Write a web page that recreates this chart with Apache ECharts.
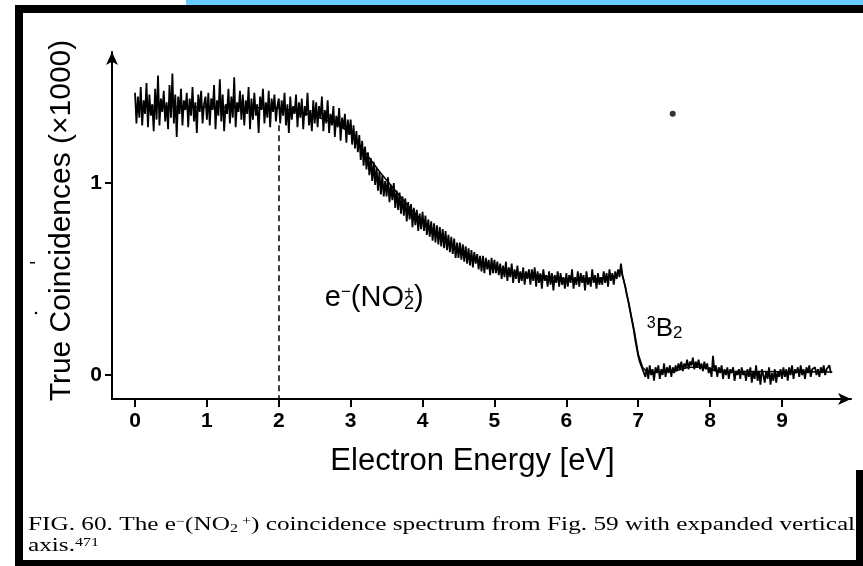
<!DOCTYPE html>
<html>
<head>
<meta charset="utf-8">
<script src="https://cdn.jsdelivr.net/npm/echarts@6/dist/echarts.min.js"></script>
<style>
html,body{margin:0;padding:0;background:#fff;}
#c{width:863px;height:566px;}
</style>
</head>
<body>
<div id="c"></div>
<script>
// ---- data ----
const energyStart = 0;      // eV, first channel
const energyStep = 0.02;    // eV per channel
const counts = [
  1.47,1.31,1.45,1.34,1.50,1.30,1.43,1.36,1.52,1.29,1.46,1.35,1.41,1.27,1.49,1.33,1.56,1.30,1.44,1.37,1.48,1.32,1.42,1.28,1.51,
  1.34,1.57,1.31,1.46,1.24,1.45,1.36,1.49,1.30,1.43,1.38,1.47,1.29,1.44,1.35,1.50,1.32,1.42,1.26,1.46,1.37,1.48,1.31,1.41,1.45,
  1.33,1.47,1.30,1.44,1.38,1.51,1.28,1.43,1.35,1.54,1.32,1.46,1.27,1.41,1.36,1.49,1.31,1.45,1.34,1.55,1.29,1.42,1.37,1.48,1.33,
  1.46,1.30,1.43,1.36,1.50,1.28,1.44,1.33,1.47,1.35,1.41,1.26,1.45,1.38,1.49,1.31,1.42,1.34,1.48,1.29,1.44,1.37,1.46,1.32,1.40,
  1.44,1.31,1.43,1.35,1.47,1.30,1.41,1.26,1.45,1.33,1.40,1.36,1.46,1.29,1.42,1.34,1.44,1.28,1.40,1.35,1.47,1.30,1.38,1.27,1.43,
  1.31,1.42,1.29,1.40,1.34,1.45,1.27,1.38,1.31,1.43,1.26,1.36,1.30,1.40,1.24,1.35,1.29,1.39,1.22,1.34,1.28,1.36,1.21,1.33,1.25,
  1.33,1.20,1.30,1.18,1.27,1.16,1.25,1.12,1.22,1.09,1.19,1.07,1.16,1.04,1.13,1.01,1.11,0.99,1.08,0.96,1.06,0.94,1.04,0.93,1.01,
  0.93,1.03,0.90,0.99,0.91,1.00,0.87,0.96,0.86,0.95,0.84,0.93,0.83,0.92,0.80,0.90,0.81,0.89,0.77,0.87,0.78,0.86,0.75,0.84,0.76,
  0.85,0.75,0.83,0.73,0.81,0.72,0.80,0.70,0.79,0.69,0.78,0.68,0.77,0.67,0.76,0.66,0.75,0.65,0.73,0.64,0.72,0.63,0.71,0.61,0.69,
  0.61,0.69,0.60,0.68,0.59,0.67,0.58,0.66,0.57,0.65,0.56,0.64,0.58,0.63,0.55,0.62,0.54,0.62,0.53,0.61,0.55,0.60,0.52,0.61,0.53,
  0.60,0.53,0.59,0.52,0.58,0.50,0.57,0.51,0.59,0.49,0.56,0.51,0.58,0.48,0.55,0.50,0.57,0.48,0.54,0.49,0.56,0.47,0.54,0.50,0.55,
  0.47,0.55,0.49,0.56,0.46,0.54,0.48,0.53,0.45,0.55,0.49,0.52,0.46,0.54,0.47,0.53,0.44,0.52,0.48,0.54,0.46,0.53,0.47,0.51,0.45,
  0.53,0.46,0.52,0.48,0.55,0.45,0.51,0.47,0.54,0.46,0.53,0.48,0.52,0.44,0.54,0.47,0.51,0.46,0.55,0.48,0.52,0.45,0.53,0.47,0.51,
  0.47,0.54,0.48,0.53,0.46,0.55,0.49,0.53,0.47,0.54,0.50,0.55,0.51,0.58,0.52,0.49,0.46,0.42,0.39,0.35,0.31,0.27,0.23,0.18,0.14,
  0.10,0.07,0.05,0.03,0.04,-0.01,0.04,-0.02,0.05,0.00,0.03,-0.03,0.04,0.01,0.05,-0.02,0.03,0.00,0.06,-0.01,0.04,0.01,0.05,-0.01,0.04,
  0.01,0.05,0.02,0.06,0.03,0.07,0.02,0.06,0.04,0.08,0.03,0.07,0.05,0.09,0.03,0.07,0.04,0.08,0.03,0.06,0.02,0.07,0.03,0.06,0.01,
  0.04,-0.01,0.10,0.02,0.05,-0.01,0.04,0.01,0.05,-0.02,0.03,0.00,0.04,-0.02,0.03,0.01,0.04,-0.03,0.02,0.00,0.03,-0.02,0.04,0.00,0.02,
  -0.03,0.03,-0.01,0.04,-0.04,0.02,-0.02,0.05,-0.03,0.02,-0.05,0.03,0.00,-0.04,0.02,-0.02,0.04,-0.05,0.01,-0.03,0.03,-0.04,0.02,-0.01,0.03,
  -0.02,0.04,-0.01,0.03,-0.03,0.04,0.00,0.05,-0.02,0.03,0.01,0.04,-0.01,0.05,0.00,0.03,-0.02,0.04,0.01,0.05,-0.01,0.03,0.02,0.04,0.00,
  0.03,-0.01,0.04,0.01,0.05,0.00,0.03,0.02,0.05,0.01
];
const fitEnergy = [0, 2.0, 2.4, 2.8, 3.0, 3.2, 3.4, 3.6, 3.8, 4.0, 4.2, 4.4, 4.6, 4.8, 5.0, 5.3, 5.6, 6.0, 6.4, 6.7, 6.76, 6.82, 6.88, 6.95, 7.0, 7.06, 7.12, 7.5, 7.7, 7.9, 8.1, 9.7];
const fitCounts = [1.40, 1.39, 1.36, 1.31, 1.26, 1.16, 1.06, 0.97, 0.88, 0.80, 0.74, 0.68, 0.63, 0.59, 0.56, 0.53, 0.52, 0.50, 0.50, 0.52, 0.55, 0.46, 0.35, 0.22, 0.11, 0.04, 0.015, 0.02, 0.04, 0.04, 0.02, 0.015];
const xTicks = [0, 1, 2, 3, 4, 5, 6, 7, 8, 9];
const yTicks = [0, 1];
const dashEnergy = 2;
const dashTop = 1.30;
const xTitle = 'Electron Energy [eV]';
const yTitle = 'True Coincidences (×1000)';
const captionLine1 = 'FIG. 60. The e{sup|−}(NO{sub|2}{sup| +}) coincidence spectrum from Fig. 59 with expanded vertical';
const captionLine2 = 'axis.{sup|471}';
const specks = [[7.48, 1.36]]; // isolated dot in the plot

// ---- chart ----
const xMin = -0.32, xMax = 9.96, yMin = -0.125, yMax = 1.682;
const sans = "'Liberation Sans', Arial, sans-serif";
const serif = "'Liberation Serif', 'Times New Roman', serif";

const trace = counts.map((v, i) => [+(energyStart + i * energyStep).toFixed(2), v]);
const fit = fitEnergy.map((e, i) => [e, fitCounts[i]]);

const chart = echarts.init(document.getElementById('c'), null, {renderer: 'canvas'});
const axisCommon = {
  type: 'value',
  splitLine: {show: false},
  axisLine: {show: true, onZero: false, symbol: ['none', 'arrow'], symbolSize: [9, 13], lineStyle: {color: '#000', width: 2}},
};
chart.setOption({
  animation: false,
  backgroundColor: '#fff',
  grid: {left: 112, top: 52, width: 739, height: 347},
  xAxis: Object.assign({}, axisCommon, {
    min: xMin, max: xMax,
    axisTick: {show: true, customValues: xTicks, length: 8, lineStyle: {color: '#000', width: 2}},
    axisLabel: {customValues: xTicks, margin: 12, color: '#000', fontFamily: sans, fontSize: 21, fontWeight: 'bold'},
    name: xTitle, nameLocation: 'middle', nameGap: 47,
    nameTextStyle: {color: '#000', fontFamily: sans, fontSize: 31, padding: [0, 18, 0, 0]}
  }),
  yAxis: Object.assign({}, axisCommon, {
    min: yMin, max: yMax,
    axisTick: {show: true, customValues: yTicks, length: 7, lineStyle: {color: '#000', width: 2}},
    axisLabel: {customValues: yTicks, margin: 10, color: '#000', fontFamily: sans, fontSize: 21, fontWeight: 'bold'},
    name: yTitle, nameLocation: 'middle', nameGap: 35, nameRotate: 90,
    nameTextStyle: {color: '#000', fontFamily: sans, fontSize: 30, padding: [0, 0, 0, 10]}
  }),
  series: [
    {
      type: 'line', data: trace, showSymbol: false, z: 3,
      lineStyle: {color: '#000', width: 1.8}
    },
    {
      type: 'line', data: fit, showSymbol: false, z: 2,
      lineStyle: {color: '#000', width: 1.5},
      markLine: {
        silent: true, symbol: ['none', 'none'], label: {show: false},
        lineStyle: {color: '#000', width: 1.5, type: [6, 4]},
        data: [[{coord: [dashEnergy, dashTop]}, {coord: [dashEnergy, yMin]}]]
      }
    },
    {
      type: 'scatter', data: specks, symbol: 'circle', symbolSize: 6,
      itemStyle: {color: '#000'}, z: 4
    }
  ]
});

const p = (e, v) => chart.convertToPixel({gridIndex: 0}, [e, v]);
const lbl1 = p(2.64, 0.40);
const lbl2 = p(7.12, 0.24);

chart.setOption({
  graphic: [
    {type: 'rect', shape: {x: 186, y: 0, width: 677, height: 5}, style: {fill: '#66CCFF'}, silent: true},
    {type: 'rect', shape: {x: 15, y: 5, width: 848, height: 8}, style: {fill: '#000'}, silent: true},
    {type: 'rect', shape: {x: 15, y: 5, width: 8, height: 561}, style: {fill: '#000'}, silent: true},
    {type: 'rect', shape: {x: 15, y: 560, width: 848, height: 6}, style: {fill: '#000'}, silent: true},
    {type: 'rect', shape: {x: 856, y: 470, width: 7, height: 96}, style: {fill: '#000'}, silent: true},
    {type: 'circle', shape: {cx: 36, cy: 313, r: 1.3}, style: {fill: '#000'}, silent: true},
    {type: 'rect', shape: {x: 30, y: 262, width: 5, height: 1.5}, style: {fill: '#000'}, silent: true},
    {
      type: 'text', x: lbl1[0], y: lbl1[1], silent: true,
      style: {
        text: 'e{sup|−}(NO{sub|2}{sup|+})', fill: '#000', font: '29px ' + sans, verticalAlign: 'middle', align: 'left',
        rich: {
          sup: {fontSize: 17, fontFamily: sans, verticalAlign: 'top', lineHeight: 14},
          sub: {fontSize: 18, fontFamily: sans, verticalAlign: 'bottom', lineHeight: 12, width: 0}
        }
      }
    },
    {
      type: 'text', x: lbl2[0], y: lbl2[1], silent: true,
      style: {
        text: '{sup|3}B{sub|2}', fill: '#000', font: '26px ' + sans, verticalAlign: 'middle', align: 'left',
        rich: {
          sup: {fontSize: 16, fontFamily: sans, verticalAlign: 'top', lineHeight: 12},
          sub: {fontSize: 17, fontFamily: sans, verticalAlign: 'bottom', lineHeight: 10}
        }
      }
    },
    {
      type: 'text', x: 28, y: 525, scaleX: 1.33, silent: true,
      style: {
        text: captionLine1, fill: '#000', font: '19px ' + serif, verticalAlign: 'middle', align: 'left',
        rich: {
          sup: {fontSize: 12, fontFamily: serif, verticalAlign: 'top', lineHeight: 12},
          sub: {fontSize: 12, fontFamily: serif, verticalAlign: 'bottom', lineHeight: 10}
        }
      }
    },
    {
      type: 'text', x: 28, y: 546, scaleX: 1.33, silent: true,
      style: {
        text: captionLine2, fill: '#000', font: '19px ' + serif, verticalAlign: 'middle', align: 'left',
        rich: {
          sup: {fontSize: 12, fontFamily: serif, verticalAlign: 'top', lineHeight: 12}
        }
      }
    }
  ]
});
</script>
</body>
</html>
